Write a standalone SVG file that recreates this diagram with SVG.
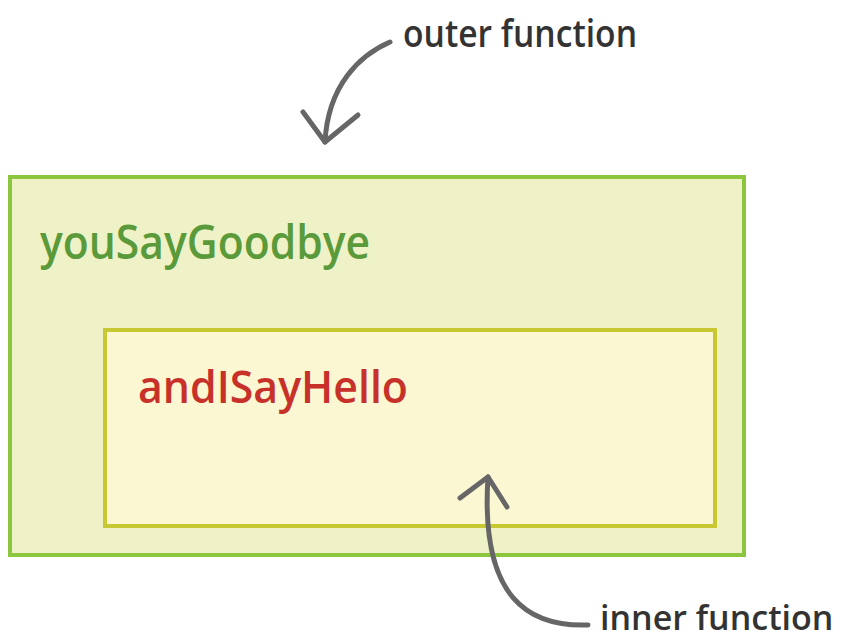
<svg xmlns="http://www.w3.org/2000/svg" width="842" height="643" viewBox="0 0 842 643">
<style>
.lbl{font-family:"Open Sans","Noto Sans","DejaVu Sans",sans-serif;font-weight:600;fill:#333}
.arr{fill:none;stroke:#666;stroke-width:5;stroke-linecap:round;stroke-linejoin:round}
</style>
<rect width="842" height="643" fill="#fff"/>
<g id="outer">
<rect x="10" y="177" width="734" height="378" fill="#eef2c6" stroke="#8cc63f" stroke-width="4"/>
<text x="40" y="259" font-family="'Open Sans','Noto Sans',sans-serif" font-size="47" font-weight="600" fill="#5a9a3a" textLength="330" lengthAdjust="spacingAndGlyphs">youSayGoodbye</text>
</g>
<g id="inner">
<rect x="105" y="330" width="610" height="196" fill="#faf7d2" stroke="#c8c832" stroke-width="4"/>
<text x="138" y="403" font-family="'Open Sans','Noto Sans',sans-serif" font-size="46" font-weight="600" fill="#c8302a" textLength="270" lengthAdjust="spacingAndGlyphs">andISayHello</text>
</g>
<g id="outer-label">
<text class="lbl" x="403" y="47" font-size="38" textLength="234" lengthAdjust="spacingAndGlyphs">outer function</text>
</g>
<g id="inner-label">
<text class="lbl" x="600" y="630" font-size="34">inner function</text>
</g>
<g id="connectors">
<path class="arr" d="M390,42 C360,55 328,85 325,142"/>
<path class="arr" d="M303,112 L325,142 L358,115"/>
<path class="arr" d="M588,625 C530,627 480,600 488,477"/>
<path class="arr" d="M460,498 L488,477 L507,507"/>
</g>
</svg>
